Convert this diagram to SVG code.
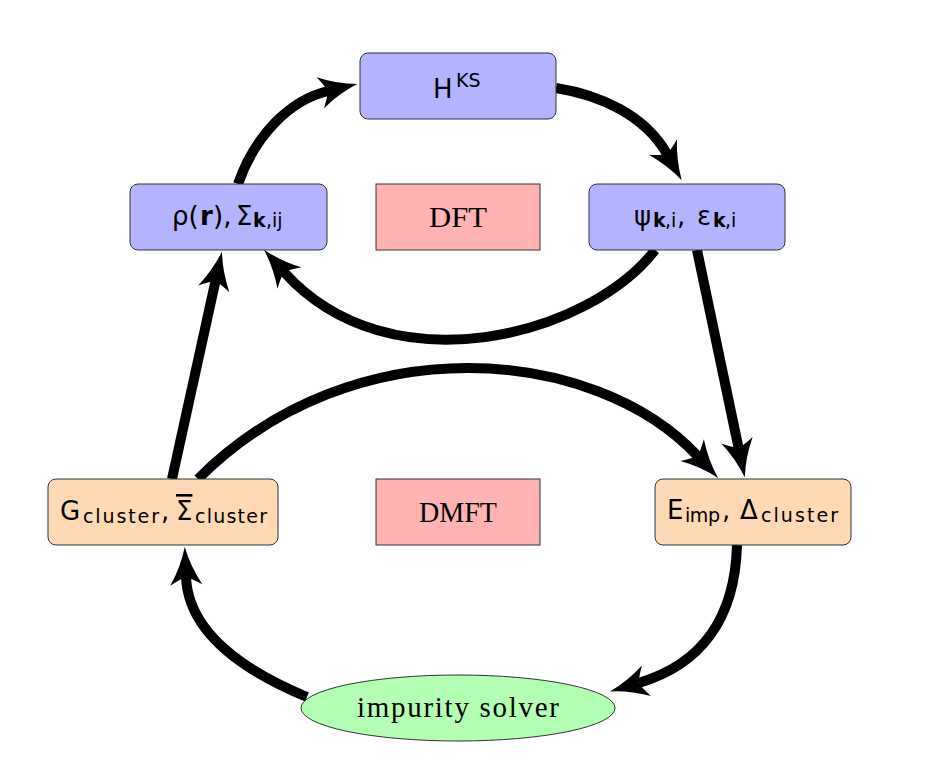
<svg xmlns="http://www.w3.org/2000/svg" width="935" height="768" viewBox="0 0 935 768">
<style>
.box{stroke:#333;stroke-width:1}
.blue{fill:#b3b3ff}
.red{fill:#ffb3b3}
.peach{fill:#ffd9b3}
.green{fill:#b3ffb3}
.math{font-family:"DejaVu Sans","Noto Sans",sans-serif;font-size:26px;fill:#000}
.rm{font-family:"Liberation Serif","Times New Roman",serif;font-size:29px;fill:#000}
.sub{font-size:19px;fill:#000}
.b{font-weight:bold}
.conn path{fill:none;stroke:#000;stroke-width:10;marker-end:url(#stealth)}
</style>
<defs>
<marker id="stealth" markerUnits="userSpaceOnUse" markerWidth="80" markerHeight="80" refX="0" refY="0" orient="auto" overflow="visible" viewBox="-40 -40 80 80">
<path d="M30,0 Q10,-5 -8,-16 Q-2,-6 0,0 Q-2,6 -8,16 Q10,5 30,0 Z" fill="#000"/>
</marker>
</defs>
<rect width="935" height="768" fill="#fff"/>
<g class="conn" id="connectors">
<path d="M238,184 C255,135 290,100 328,91"/>
<path d="M556,88 C600,95 645,115 667,154"/>
<path d="M655,250 C590,335 390,390 284,272"/>
<path d="M172,479 L215.5,281"/>
<path d="M697,250 L738.6,448"/>
<path d="M198,479 C354,323 595.6,346.5 697.6,456"/>
<path d="M737,545 C735,620 700,665 638.7,683"/>
<path d="M307,697 C230,665 188,625 186,577"/>
</g>
<g id="hks">
<rect class="box blue" x="360" y="53" width="196" height="66" rx="8"/>
<text class="math" font-size="28"><tspan x="433" y="98">H</tspan><tspan class="sub" font-size="17" x="456" y="87">KS</tspan></text>
</g>
<g id="rho">
<rect class="box blue" x="130" y="184" width="197" height="66" rx="8"/>
<text class="math"><tspan x="172" y="225">ρ(</tspan><tspan class="b" x="200" y="225">r</tspan><tspan x="213" y="225">),</tspan><tspan x="236" y="225">Σ</tspan><tspan class="sub b" x="253" y="227">k</tspan><tspan class="sub" x="266" y="227">,ij</tspan></text>
</g>
<g id="dft">
<rect class="box red" x="376" y="184" width="164" height="66"/>
<text class="rm" x="458" y="227" text-anchor="middle" textLength="58" lengthAdjust="spacingAndGlyphs">DFT</text>
</g>
<g id="psi">
<rect class="box blue" x="589" y="184" width="196" height="66" rx="8"/>
<text class="math"><tspan x="634" y="225">ψ</tspan><tspan class="sub b" x="653" y="227">k</tspan><tspan class="sub" x="665" y="227">,i</tspan><tspan x="677" y="225">,</tspan><tspan x="697" y="225">ε</tspan><tspan class="sub b" x="713" y="227">k</tspan><tspan class="sub" x="725" y="227">,i</tspan></text>
</g>
<g id="gcluster">
<rect class="box peach" x="48" y="479" width="230" height="66" rx="8"/>
<text class="math"><tspan x="60" y="520">G</tspan><tspan class="sub" x="83" y="523" textLength="76" lengthAdjust="spacing">cluster</tspan><tspan x="161" y="520">,</tspan><tspan x="176" y="520" text-decoration="overline">Σ</tspan><tspan class="sub" x="195" y="523" textLength="72" lengthAdjust="spacing">cluster</tspan></text>
</g>
<g id="dmft">
<rect class="box red" x="376" y="479" width="164" height="66"/>
<text class="rm" x="458" y="522" text-anchor="middle" textLength="78" lengthAdjust="spacingAndGlyphs">DMFT</text>
</g>
<g id="eimp">
<rect class="box peach" x="655" y="479" width="196" height="66" rx="8"/>
<text class="math"><tspan x="667" y="519">E</tspan><tspan class="sub" x="685" y="522" textLength="35" lengthAdjust="spacing">imp</tspan><tspan x="722" y="519">,</tspan><tspan x="740" y="519">Δ</tspan><tspan class="sub" x="761" y="522" textLength="77" lengthAdjust="spacing">cluster</tspan></text>
</g>
<g id="solver">
<ellipse class="box green" cx="458" cy="708" rx="157" ry="33"/>
<text class="rm" font-size="32" x="458" y="717" text-anchor="middle" textLength="202" lengthAdjust="spacing">impurity solver</text>
</g>
</svg>
